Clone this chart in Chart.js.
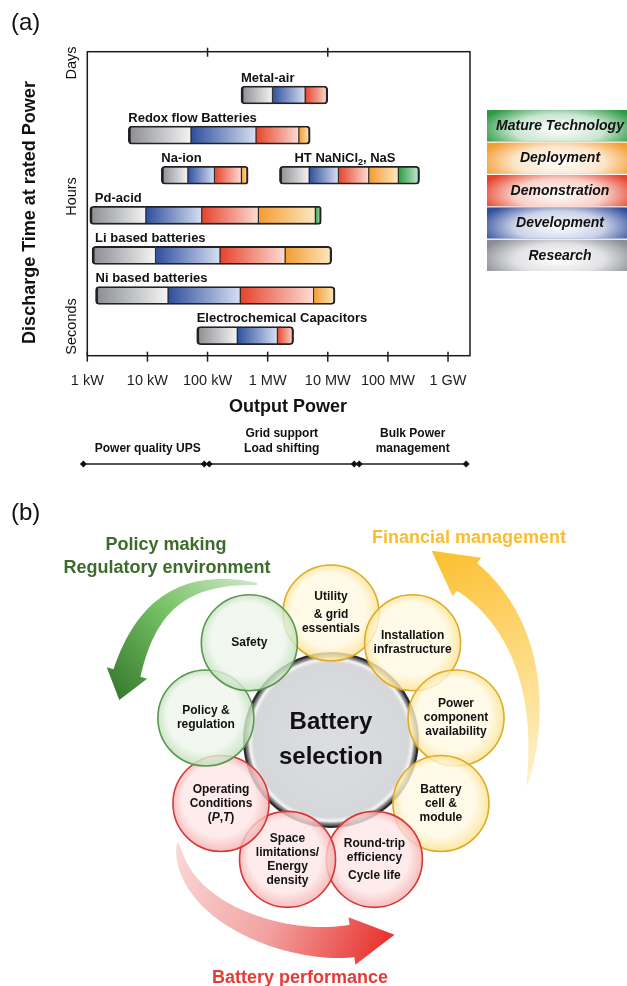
<!DOCTYPE html>
<html>
<head>
<meta charset="utf-8">
<script src="https://cdn.jsdelivr.net/npm/chart.js@4.4.0/dist/chart.umd.min.js"></script>
<style>
  html, body { margin: 0; padding: 0; background: #fff; }
  body { width: 627px; height: 986px; position: relative; overflow: hidden; }
  #chartA { position: absolute; left: 0; top: 0; }
  #chartB { position: absolute; left: 0; top: 480px; }
</style>
</head>
<body>
<canvas id="chartA" width="627" height="480"></canvas>
<canvas id="chartB" width="627" height="506"></canvas>
<script>
// ---------- (a) data: maturity of each chemistry against output power ----------
const powerTicks = [1, 10, 100, 1e3, 1e4, 1e5, 1e6]; // kW
const powerTickLabels = ['1 kW', '10 kW', '100 kW', '1 MW', '10 MW', '100 MW', '1 GW'];
const frameTopTicks = [100, 1e4];

const technologies = ['Metal-air', 'Redox flow Batteries', 'Na-ion', 'HT NaNiCl₂, NaS',
  'Pd-acid', 'Li based batteries', 'Ni based batteries', 'Electrochemical Capacitors'];
const techRow = [6, 5, 4, 4, 3, 2, 1, 0];
// left end of the bar, then where each stage stops (kW)
const stageEdges = [
  [360, 1200, 4200, 10000],
  [4.8, 53, 640, 3300, 5100],
  [17, 47, 130, 365, 473],
  [1570, 4900, 15000, 48000, 149000, 336000],
  [1.1, 9.4, 80, 700, 6200, 7800],
  [1.2, 13.6, 161, 1950, 11600],
  [1.37, 22, 350, 5800, 13200],
  [66, 312, 1450, 2700]
];
const stages = ['Research', 'Development', 'Demonstration', 'Deployment', 'Mature Technology'];
const stageDark = ['#8a8c92', '#2f4e9c', '#e6432b', '#f39c2f', '#2b9a45'];
const stageLight = ['#f4f4f4', '#d6dff3', '#fcdcd5', '#fde7c4', '#cdeccf'];

const timeLabels = ['Seconds', 'Hours', 'Days'];
const timeLevels = [0.23, 3.47, 6.8];

const applications = [['Power quality UPS'], ['Grid support', 'Load shifting'], ['Bulk Power', 'management']];
const applicationRanges = [[0.86, 88], [107, 27500], [33300, 2.0e6]];

// ---------- (b) data: factors around battery selection ----------
const factors = [
  ['Utility', '', '& grid', 'essentials'],
  ['Installation', 'infrastructure'],
  ['Power', 'component', 'availability'],
  ['Battery', 'cell &', 'module'],
  ['Round-trip', 'efficiency', '', 'Cycle life'],
  ['Space', 'limitations/', 'Energy', 'density'],
  ['Operating', 'Conditions', '(*P*,*T*)'],
  ['Policy &', 'regulation'],
  ['Safety']
];
const factorGroup = ['finance', 'finance', 'finance', 'finance', 'performance', 'performance', 'performance', 'policy', 'policy'];
const factorAngle = [90, 50, 10, -30, -70, -110, -150, 170, 130];

const FONT = '"Liberation Sans", Arial, sans-serif';
const INK = '#111111';
Chart.defaults.font.family = FONT;

function stageFill(c, si) {
  const xs = c.chart.scales.x;
  const r = c.raw;
  if (!xs || !r || !r.x) return stageDark[si];
  const x0 = xs.getPixelForValue(r.x[0]), x1 = xs.getPixelForValue(r.x[1]);
  if (!isFinite(x0) || !isFinite(x1)) return stageDark[si];
  const g = c.chart.ctx.createLinearGradient(x0, 0, x1, 0);
  g.addColorStop(0, stageDark[si]);
  g.addColorStop(1, stageLight[si]);
  return g;
}

const barSets = stages.map((stage, si) => ({
  label: stage,
  stack: 'tech',
  data: technologies.map((t, ti) => {
    const e = stageEdges[ti];
    if (si + 1 >= e.length) return null;
    return { x: [e[si], e[si + 1]], y: techRow[ti], first: si === 0, last: si + 2 === e.length };
  }).filter(Boolean),
  backgroundColor: c => stageFill(c, si),
  borderColor: '#222222',
  borderWidth: c => {
    const r = c.raw || {};
    return { top: 1.8, bottom: 1.8, left: r.first ? 2.8 : 0.9, right: r.last ? 2.2 : 0.9 };
  },
  borderRadius: c => {
    const r = c.raw || {};
    return { topLeft: r.first ? 4 : 0, bottomLeft: r.first ? 4 : 0, topRight: r.last ? 4 : 0, bottomRight: r.last ? 4 : 0 };
  },
  borderSkipped: false,
  barThickness: 18
}));

function line(ctx, x0, y0, x1, y1) {
  ctx.beginPath(); ctx.moveTo(x0, y0); ctx.lineTo(x1, y1); ctx.stroke();
}

// label with a subscript "2"
function drawSubLabel(ctx, text, x, y) {
  const parts = text.split('₂');
  ctx.textAlign = 'left';
  ctx.font = 'bold 13px ' + FONT;
  ctx.fillText(parts[0], x, y);
  if (parts.length < 2) return;
  let cx = x + ctx.measureText(parts[0]).width;
  ctx.font = 'bold 9px ' + FONT;
  ctx.fillText('2', cx, y + 4);
  cx += ctx.measureText('2').width;
  ctx.font = 'bold 13px ' + FONT;
  ctx.fillText(parts[1], cx, y);
}

const labelNudge = { 3: 15, 4: 5, 5: 3 };

const panelA = {
  id: 'panelA',
  afterDatasetsDraw(chart) {
    const { ctx, chartArea: a, scales: { x, y } } = chart;
    ctx.save();
    ctx.fillStyle = INK;
    ctx.textBaseline = 'middle';

    // frame + tick marks
    ctx.strokeStyle = '#1c1c1c';
    ctx.lineWidth = 1.5;
    ctx.strokeRect(a.left, a.top, a.right - a.left, a.bottom - a.top);
    powerTicks.forEach(v => { const px = x.getPixelForValue(v); line(ctx, px, a.bottom - 4, px, a.bottom + 6); });
    frameTopTicks.forEach(v => { const px = x.getPixelForValue(v); line(ctx, px, a.top - 4, px, a.top + 5); });

    // chemistry names above bars
    technologies.forEach((t, ti) => {
      const px = x.getPixelForValue(stageEdges[ti][0]) + (labelNudge[ti] || 0);
      const py = y.getPixelForValue(techRow[ti]) - 9 - 8;
      drawSubLabel(ctx, t, px, py);
    });

    // discharge time labels
    ctx.font = '14.5px ' + FONT;
    ctx.textAlign = 'center';
    timeLabels.forEach((t, i) => {
      ctx.save();
      ctx.translate(72, y.getPixelForValue(timeLevels[i]));
      ctx.rotate(-Math.PI / 2);
      ctx.fillText(t, 0, 0);
      ctx.restore();
    });

    // axis titles
    ctx.font = 'bold 18px ' + FONT;
    ctx.save();
    ctx.translate(30.5, 212.5);
    ctx.rotate(-Math.PI / 2);
    ctx.fillText('Discharge Time at rated Power', 0, 0);
    ctx.restore();
    ctx.fillText('Output Power', 288, 407.5);

    // application ranges
    ctx.lineWidth = 1.4;
    applications.forEach((lines, i) => {
      const x0 = x.getPixelForValue(applicationRanges[i][0]);
      const x1 = x.getPixelForValue(applicationRanges[i][1]);
      line(ctx, x0, 464, x1, 464);
      [x0, x1].forEach(px => {
        ctx.beginPath();
        ctx.moveTo(px - 3.5, 464); ctx.lineTo(px, 460.5); ctx.lineTo(px + 3.5, 464); ctx.lineTo(px, 467.5);
        ctx.closePath(); ctx.fill();
      });
      ctx.font = 'bold 12px ' + FONT;
      const mid = (x0 + x1) / 2 + (lines.length === 1 ? 4 : 0);
      lines.forEach((s, k) => ctx.fillText(s, mid, 449 - (lines.length - 1 - k) * 15));
    });

    // stage legend
    const lx = 487, lw = 150, ly = 110, lh = 32.4;
    for (let k = 0; k < stages.length; k++) {
      const si = stages.length - 1 - k;
      const top = ly + k * lh;
      ctx.save();
      ctx.beginPath(); ctx.rect(lx, top, lw, lh - 1); ctx.clip();
      ctx.fillStyle = stageDark[si];
      ctx.fillRect(lx, top, lw, lh);
      ctx.translate(lx + 72, top + lh * 0.6);
      ctx.scale(1, 0.34);
      const g = ctx.createRadialGradient(0, 0, 0, 0, 0, 82);
      g.addColorStop(0, 'rgba(255,255,255,1)');
      g.addColorStop(0.55, 'rgba(255,255,255,0.75)');
      g.addColorStop(1, 'rgba(255,255,255,0)');
      ctx.fillStyle = g;
      ctx.fillRect(-120, -140, 240, 280);
      ctx.restore();
      ctx.fillStyle = INK;
      ctx.font = 'italic bold 14px ' + FONT;
      ctx.fillText(stages[si], 560, top + lh / 2);
    }

    ctx.font = '24px ' + FONT;
    ctx.textAlign = 'left';
    ctx.fillText('(a)', 11, 23);
    ctx.restore();
  }
};

new Chart(document.getElementById('chartA'), {
  type: 'bar',
  data: { datasets: barSets },
  options: {
    responsive: false,
    animation: false,
    events: [],
    indexAxis: 'y',
    layout: { autoPadding: false, padding: { left: 87.3, top: 51.7, right: 157, bottom: 0 } },
    plugins: { legend: { display: false }, tooltip: { enabled: false } },
    scales: {
      x: {
        type: 'logarithmic',
        min: 1,
        max: 2.32e6,
        stacked: false,
        afterBuildTicks: s => { s.ticks = powerTicks.map(v => ({ value: v })); },
        afterFit: s => { s.height = 124.3; },
        ticks: {
          autoSkip: false, maxRotation: 0, minRotation: 0, padding: 9,
          color: '#1c1c1c', font: { size: 14.5 },
          callback: (v, i) => powerTickLabels[i]
        },
        grid: { display: false },
        border: { display: false }
      },
      y: { type: 'linear', min: -0.5, max: 7.08, offset: false, display: false }
    }
  },
  plugins: [panelA]
});

// ---------- (b) ----------
const groupStyle = {
  policy: { light: 'rgba(238,246,236,0.8)', edge: 'rgba(190,222,182,0.82)', line: '#5a9652' },
  finance: { light: 'rgba(255,249,226,0.8)', edge: 'rgba(250,224,140,0.82)', line: '#ddab25' },
  performance: { light: 'rgba(253,230,230,0.8)', edge: 'rgba(245,172,172,0.82)', line: '#d63838' }
};

function factorFill(c) {
  const st = groupStyle[factorGroup[c.dataIndex]];
  const xs = c.chart.scales.x, ys = c.chart.scales.y;
  if (!st || !xs || !ys || !c.raw) return 'rgba(240,240,240,0.7)';
  const px = xs.getPixelForValue(c.raw.x), py = ys.getPixelForValue(c.raw.y);
  if (!isFinite(px) || !isFinite(py)) return st.light;
  const g = c.chart.ctx.createRadialGradient(px - 8, py - 12, 4, px, py, 49);
  g.addColorStop(0, st.light);
  g.addColorStop(0.72, st.light);
  g.addColorStop(1, st.edge);
  return g;
}

function centerFill(c) {
  const xs = c.chart.scales.x, ys = c.chart.scales.y;
  if (!xs || !ys) return '#d8d9dc';
  const px = xs.getPixelForValue(0), py = ys.getPixelForValue(0);
  if (!isFinite(px) || !isFinite(py)) return '#d8d9dc';
  const g = c.chart.ctx.createRadialGradient(px, py, 5, px, py, 87);
  g.addColorStop(0, '#dcdde0');
  g.addColorStop(0.88, '#d6d7da');
  g.addColorStop(0.93, '#f4f4f4');
  g.addColorStop(0.96, '#8a8a8c');
  g.addColorStop(1, '#2e2e2e');
  return g;
}

const arrows = [
  { path: [[-74, -156], [-151, -165], [-186, -130], [-204, -67]], w0: 1, w1: 14, p: 0.8, head: 21, len: 28,
    colors: ['#cfe7c8', '#74c163', '#397a30'] },
  { path: [[196, 45], [214, -40], [194, -120], [136, -163]], w0: 0.5, w1: 17, p: 0.8, head: 24, len: 44,
    colors: ['#fdf1cc', '#fdd97c', '#fbbf2e'] },
  { path: [[-153, 103], [-149, 175], [-41, 210], [21, 201]], w0: 0.5, w1: 16.5, p: 0.6, head: 24, len: 43,
    colors: ['#f9d8d8', '#f2a2a0', '#e8302c'] }
];

function drawArrow(ctx, cx, cy, a) {
  const P = a.path.map(p => [cx + p[0], cy + p[1]]);
  const bez = (t, i) => { const u = 1 - t; return u * u * u * P[0][i] + 3 * u * u * t * P[1][i] + 3 * u * t * t * P[2][i] + t * t * t * P[3][i]; };
  const der = (t, i) => { const u = 1 - t; return 3 * u * u * (P[1][i] - P[0][i]) + 6 * u * t * (P[2][i] - P[1][i]) + 3 * t * t * (P[3][i] - P[2][i]); };
  const N = 60, left = [], right = [];
  let dx = 0, dy = 0;
  for (let k = 0; k <= N; k++) {
    const t = k / N;
    const px = bez(t, 0), py = bez(t, 1);
    dx = der(t, 0); dy = der(t, 1);
    const len = Math.hypot(dx, dy) || 1;
    dx /= len; dy /= len;
    const w = a.w0 + (a.w1 - a.w0) * Math.pow(t, a.p);
    left.push([px - dy * w, py + dx * w]);
    right.push([px + dy * w, py - dx * w]);
  }
  const ex = P[3][0], ey = P[3][1];
  const tip = [ex + dx * a.len, ey + dy * a.len];
  ctx.beginPath();
  ctx.moveTo(left[0][0], left[0][1]);
  left.forEach(p => ctx.lineTo(p[0], p[1]));
  ctx.lineTo(ex - dy * a.head, ey + dx * a.head);
  ctx.lineTo(tip[0], tip[1]);
  ctx.lineTo(ex + dy * a.head, ey - dx * a.head);
  for (let k = N; k >= 0; k--) ctx.lineTo(right[k][0], right[k][1]);
  ctx.closePath();
  const g = ctx.createLinearGradient(P[0][0], P[0][1], tip[0], tip[1]);
  a.colors.forEach((col, i) => g.addColorStop(i / (a.colors.length - 1), col));
  ctx.fillStyle = g;
  ctx.fill();
}

function drawRich(ctx, str, x, y, size) {
  const parts = str.split('*');
  const fonts = parts.map((p, i) => (i % 2 ? 'italic ' : '') + 'bold ' + size + 'px ' + FONT);
  let w = 0;
  parts.forEach((p, i) => { ctx.font = fonts[i]; w += ctx.measureText(p).width; });
  let cx = x - w / 2;
  ctx.textAlign = 'left';
  parts.forEach((p, i) => { ctx.font = fonts[i]; ctx.fillText(p, cx, y); cx += ctx.measureText(p).width; });
}

const panelB = {
  id: 'panelB',
  beforeDatasetsDraw(chart) {
    const { ctx, scales: { x, y } } = chart;
    const cx = x.getPixelForValue(0), cy = y.getPixelForValue(0);
    ctx.save();
    arrows.forEach(a => drawArrow(ctx, cx, cy, a));
    ctx.restore();
  },
  afterDatasetsDraw(chart) {
    const { ctx, scales: { x, y } } = chart;
    const cx = x.getPixelForValue(0), cy = y.getPixelForValue(0);
    ctx.save();
    ctx.textBaseline = 'middle';
    ctx.fillStyle = INK;

    // factor labels inside circles
    const pts = chart.getDatasetMeta(0).data;
    factors.forEach((lines, i) => {
      const el = pts[i];
      const h = lines.reduce((s, l) => s + (l === '' ? 4 : 14), 0);
      let yy = el.y - h / 2;
      lines.forEach(l => {
        if (l === '') { yy += 4; return; }
        drawRich(ctx, l, el.x, yy + 7, 12);
        yy += 14;
      });
    });

    ctx.textAlign = 'center';
    ctx.font = 'bold 24px ' + FONT;
    ctx.fillText('Battery', cx, cy - 18);
    ctx.fillText('selection', cx, cy + 17);

    // group titles
    ctx.font = 'bold 18px ' + FONT;
    ctx.fillStyle = '#3d6b2c';
    ctx.fillText('Policy making', cx - 165, cy - 195);
    ctx.fillText('Regulatory environment', cx - 164, cy - 172);
    ctx.fillStyle = '#fbbd2c';
    ctx.fillText('Financial management', cx + 138, cy - 202);
    ctx.fillStyle = '#e83a35';
    ctx.fillText('Battery performance', cx - 31, cy + 238);

    ctx.fillStyle = INK;
    ctx.font = '24px ' + FONT;
    ctx.textAlign = 'left';
    ctx.fillText('(b)', 11, 33);
    ctx.restore();
  }
};

new Chart(document.getElementById('chartB'), {
  type: 'bubble',
  data: {
    datasets: [
      {
        label: 'factors',
        data: factorAngle.map(a => ({ x: Math.cos(a * Math.PI / 180), y: Math.sin(a * Math.PI / 180) })),
        radius: 48,
        backgroundColor: factorFill,
        borderColor: c => (groupStyle[factorGroup[c.dataIndex]] || {}).line || '#999',
        borderWidth: 1.6,
        clip: false
      },
      {
        label: 'Battery selection',
        data: [{ x: 0, y: 0 }],
        radius: 87,
        backgroundColor: centerFill,
        borderColor: '#2a2a2a',
        borderWidth: 2,
        clip: false
      }
    ]
  },
  options: {
    responsive: false,
    animation: false,
    events: [],
    layout: { autoPadding: false, padding: 0 },
    plugins: { legend: { display: false }, tooltip: { enabled: false } },
    scales: {
      x: { type: 'linear', min: -2.606, max: 2.331, display: false },
      y: { type: 'linear', min: -1.937, max: 2.047, display: false }
    }
  },
  plugins: [panelB]
});
</script>
</body>
</html>
